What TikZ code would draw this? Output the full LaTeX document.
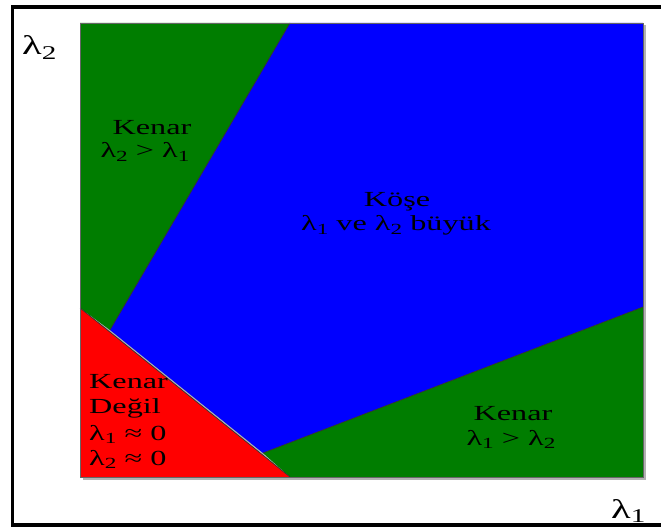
\documentclass[tikz,border=0pt]{standalone}
\usepackage{fontspec}
\setmainfont[FakeStretch=1.5]{Liberation Serif}
\newcommand\lsub[2]{#1\raisebox{-0.35ex}{\scalebox{0.72}{#2}}}
\definecolor{rgreen}{RGB}{0,125,0}
\definecolor{rblue}{RGB}{0,0,255}
\definecolor{rred}{RGB}{255,0,0}
\begin{document}
\begin{tikzpicture}[x=1pt,y=-1pt,
  edge/.style={draw=black!80, line width=0.7pt, line join=round},
  lbl/.style={font=\fontsize{21.5}{24}\selectfont, inner sep=0pt, text=black, anchor=base},
  axlbl/.style={font=\fontsize{27}{30}\selectfont, inner sep=0pt, text=black, anchor=base west}]
\useasboundingbox (0,0) rectangle (661,529);
% outer frame
\draw[line width=3.5pt] (661,7) -- (12.5,7) -- (12.5,525) -- (661,525);
% shadow
\fill[black!30] (82.5,25.5) rectangle (646,480);
% regions
\fill[rgreen] (80,23) -- (290,23) -- (110,330) -- (80,308) -- cycle;
\fill[rblue] (290,23) -- (643,23) -- (643,307) -- (263,453) -- (110,330) -- cycle;
\fill[rgreen] (263,453) -- (643,307) -- (643,477) -- (290,477) -- cycle;
\fill[rred] (80,308) -- (80,477) -- (290,477) -- cycle;
\draw[edge] (290,23) -- (110,330);
\draw[edge] (80,308) -- (290,477);
\draw[edge] (263,453) -- (643,307);
\draw[black!60, line width=0.8pt] (80,23) rectangle (643,477);
% labels
\node[axlbl] (l2) at (22,55) {\lsub{λ}{2}};
\node[axlbl] (l1) at (611,518) {\lsub{λ}{1}};
\node[lbl] (tk) at (152,135) {Kenar};
\node[lbl] (tc) at (145,158) {\lsub{λ}{2} > \lsub{λ}{1}};
\node[lbl] (ck) at (397,207) {Köşe};
\node[lbl] (cc) at (396,231) {\lsub{λ}{1} ve \lsub{λ}{2} büyük};
\node[lbl, anchor=base west] (rk) at (89,388) {Kenar};
\node[lbl, anchor=base west] (rd) at (89,413) {Değil};
\node[lbl, anchor=base west] (r1) at (89,440) {\lsub{λ}{1} ≈ 0};
\node[lbl, anchor=base west] (r2) at (89,465) {\lsub{λ}{2} ≈ 0};
\node[lbl] (bk) at (513,420) {Kenar};
\node[lbl] (bc) at (511,445) {\lsub{λ}{1} > \lsub{λ}{2}};
\end{tikzpicture}
\end{document}
